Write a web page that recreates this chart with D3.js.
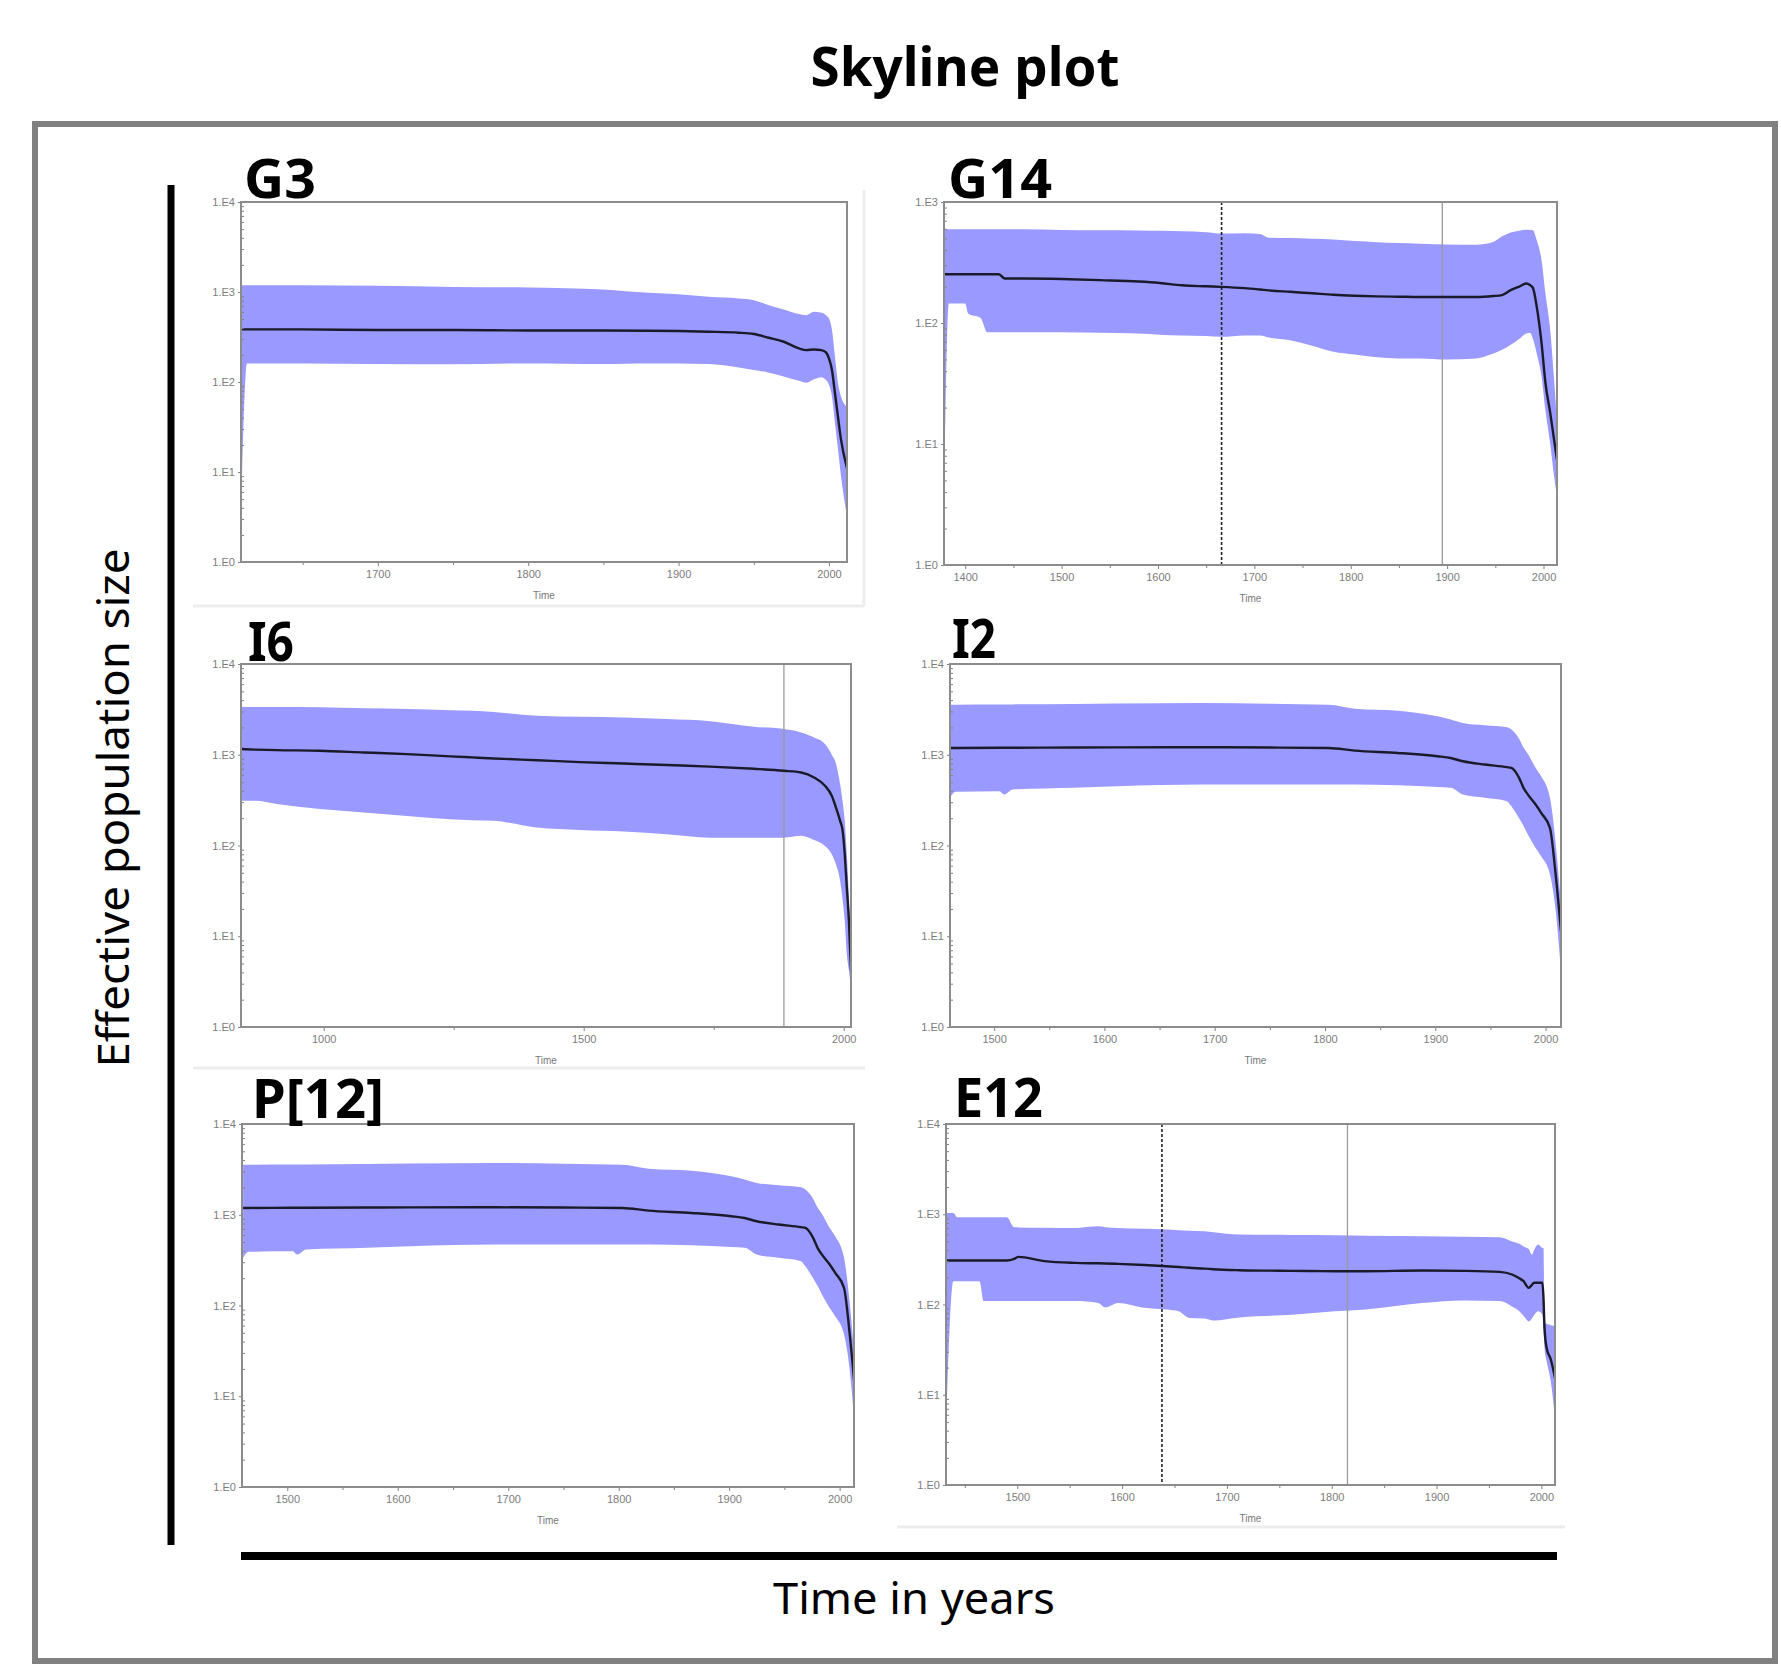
<!DOCTYPE html>
<html>
<head>
<meta charset="utf-8">
<script src="https://cdn.jsdelivr.net/npm/d3@7"></script>
<style>
    body { margin: 0; background: #fff; }
    svg { display: block; }
    .tick text { font-family: 'Liberation Sans', Arial, sans-serif; font-size: 11px; fill: #7c7c7c; }
    .tick line { stroke: #808080; }
</style>
</head>
<body>
<div id="chart"></div>
<script>
// G3
const g3Years  = [1609, 1613, 1650, 1700, 1750, 1800, 1850, 1880, 1900, 1920, 1940, 1950, 1960, 1970, 1980, 1985, 1990, 1995, 1998, 2000, 2002, 2004, 2006, 2008, 2012];
const g3Median = [384, 384, 384, 378, 378, 374, 374, 371, 368, 362, 353, 341, 310, 280, 236, 226, 230, 226, 213, 183, 136, 75, 41, 23, 11];
const g3Lower  = [3, 161, 161, 158, 157, 161, 158, 161, 161, 158, 145, 136, 127, 115, 103, 98, 107, 113, 105, 93, 69, 35, 18, 9, 3.2];
const g3Upper  = [1190, 1190, 1190, 1170, 1138, 1122, 1067, 980, 946, 883, 847, 811, 714, 640, 568, 553, 603, 587, 553, 508, 378, 191, 97, 69, 53];

// G14
const g14Years  = [1378, 1383, 1400, 1403, 1416, 1423, 1435, 1441, 1460, 1500, 1540, 1580, 1602, 1625, 1650, 1665, 1690, 1706, 1715, 1737, 1760, 1782, 1804, 1827, 1849, 1872, 1899, 1930, 1948, 1957, 1966, 1975, 1982, 1986, 1989, 1993, 1998, 2002, 2007, 2011, 2014];
const g14Median = [253, 253, 253, 253, 253, 253, 253, 233, 233, 231, 226, 220, 214, 205, 201, 199, 194, 189, 186, 181, 176, 171, 168, 166, 165, 164, 164, 164, 167, 170, 187, 200, 212, 206, 195, 136, 68, 32, 18, 10.8, 7.4];
const g14Lower  = [3, 145, 145, 120, 110, 84, 84, 84, 84, 84, 83, 82, 80, 79, 78, 77, 79, 79, 76, 72, 65, 58, 55, 52, 51, 51, 50, 51, 56, 60, 66, 74, 82, 83, 74, 56, 36, 19, 10, 5.4, 3.7];
const g14Upper  = [594, 594, 594, 594, 594, 594, 594, 594, 594, 588, 584, 582, 578, 572, 562, 548, 552, 545, 507, 503, 498, 490, 476, 466, 458, 452, 446, 444, 468, 520, 560, 580, 590, 588, 584, 482, 330, 175, 87, 34, 14.8];

// I6
const i6Years  = [841, 868, 910, 993, 1077, 1160, 1243, 1285, 1327, 1410, 1493, 1577, 1660, 1743, 1827, 1885, 1918, 1943, 1964, 1977, 1985, 1993, 1998, 2002, 2006, 2010, 2014];
const i6Median = [1155, 1140, 1125, 1107, 1060, 1016, 960, 935, 910, 870, 830, 800, 770, 740, 700, 666, 638, 562, 455, 353, 262, 187, 145, 80, 34, 14.8, 4.2];
const i6Lower  = [311, 311, 286, 252, 231, 212, 195, 190, 187, 158, 148, 143, 133, 122, 122, 122, 128, 115, 99, 80, 62, 41, 25, 14.8, 6.3, 4.2, 2.7];
const i6Upper  = [3380, 3360, 3350, 3327, 3250, 3190, 3100, 3055, 2950, 2690, 2620, 2580, 2470, 2340, 2037, 1920, 1762, 1552, 1311, 1000, 800, 475, 300, 187, 80, 27, 7.5];

// I2 (P[12] reads the same off the picture)
const i2Years  = [1460, 1465, 1505, 1509, 1517, 1572, 1611, 1689, 1750, 1803, 1827, 1866, 1902, 1914, 1925, 1945, 1965, 1969, 1976, 1980, 1984, 1991, 1996, 2004, 2009, 2014];
const i2Median = [1188, 1188, 1195, 1195, 1195, 1200, 1205, 1209, 1200, 1188, 1111, 1047, 962, 920, 848, 780, 730, 717, 556, 432, 364, 283, 229, 156, 50, 11.4];
const i2Lower  = [335, 390, 396, 364, 414, 432, 450, 470, 470, 470, 470, 460, 440, 432, 364, 335, 308, 270, 200, 165, 132, 94, 76, 48, 20, 4.1];
const i2Upper  = [3564, 3564, 3580, 3580, 3590, 3630, 3660, 3724, 3650, 3552, 3222, 3063, 2654, 2450, 2240, 2113, 2010, 1900, 1500, 1200, 1020, 716, 580, 335, 110, 22];

// E12
const e12Years  = [1432, 1439, 1443, 1464, 1468, 1490, 1497, 1501, 1526, 1555, 1577, 1584, 1596, 1621, 1642, 1654, 1664, 1679, 1687, 1712, 1762, 1803, 1832, 1886, 1927, 1960, 1972, 1979, 1983, 1988, 1991, 1993, 1997, 2001, 2002, 2003, 2005, 2009, 2013];
const e12Median = [307, 307, 307, 307, 307, 307, 320, 337, 302, 289, 286, 285, 282, 274, 265, 260, 255, 250, 246, 240, 236, 234, 234, 238, 236, 230, 215, 195, 181, 153, 165, 174, 174, 174, 119, 55, 33, 24.6, 15.4];
const e12Lower  = [4, 181, 181, 181, 109, 109, 109, 109, 109, 109, 104, 93, 104, 92, 88, 84, 71, 70, 66.5, 72, 77, 84, 88, 104, 111, 109, 95, 84, 75, 65, 70, 76, 84, 77, 55, 33, 23.6, 14, 5.6];
const e12Upper  = [1035, 1035, 927, 927, 927, 927, 718, 715, 710, 706, 736, 720, 706, 690, 676, 665, 655, 648, 630, 596, 590, 586, 578, 570, 562, 556, 500, 470, 440, 410, 357, 400, 461, 424, 424, 65, 61, 59, 57.5];

// axes
const decadeLabels = ['1.E0', '1.E1', '1.E2', '1.E3', '1.E4'];
const g3Ticks  = [1700, 1800, 1900, 2000];
const g14Ticks = [1400, 1500, 1600, 1700, 1800, 1900, 2000];
const i6Ticks  = [1000, 1500, 2000];
const i2Ticks  = [1500, 1600, 1700, 1800, 1900, 2000];
const e12Ticks = [1500, 1600, 1700, 1800, 1900, 2000];

// vertical marker lines (dashed, solid)
const g14Marks = [1666, 1895];
const i6Marks  = [null, 1885];
const e12Marks = [1638, 1815];

const WIDTH = 1781;
const HEIGHT = 1664;
const BAND_COLOR = '#9999ff';

const panels = [
    { name: 'G3', years: g3Years, median: g3Median, lower: g3Lower, upper: g3Upper,
      domain: [1609, 2012], topExp: 4, ticks: g3Ticks, minorStep: 50, marks: [],
      box: [241, 202, 847, 562], label: [244, 198, 72] },
    { name: 'G14', years: g14Years, median: g14Median, lower: g14Lower, upper: g14Upper,
      domain: [1378, 2014], topExp: 3, ticks: g14Ticks, minorStep: 50, marks: g14Marks,
      box: [944, 202, 1557, 565], label: [948, 198, 104] },
    { name: 'I6', years: i6Years, median: i6Median, lower: i6Lower, upper: i6Upper,
      domain: [841, 2014], topExp: 4, ticks: i6Ticks, minorStep: 250, marks: i6Marks,
      box: [241, 664, 851, 1027], label: [248, 661, 46] },
    { name: 'I2', years: i2Years, median: i2Median, lower: i2Lower, upper: i2Upper,
      domain: [1460, 2014], topExp: 4, ticks: i2Ticks, minorStep: 50, marks: [],
      box: [950, 664, 1561, 1027], label: [952, 658, 44] },
    { name: 'P[12]', years: i2Years, median: i2Median, lower: i2Lower, upper: i2Upper,
      domain: [1459, 2013], topExp: 4, ticks: i2Ticks, minorStep: 50, marks: [],
      box: [242, 1124, 854, 1487], label: [252, 1118, 132] },
    { name: 'E12', years: e12Years, median: e12Median, lower: e12Lower, upper: e12Upper,
      domain: [1432, 2013], topExp: 4, ticks: e12Ticks, minorStep: 50, marks: e12Marks,
      box: [946, 1124, 1555, 1485], label: [954, 1117, 89] },
];

const svg = d3.select('#chart')
    .append('svg')
    .attr('width', WIDTH)
    .attr('height', HEIGHT)
    .style('background', '#fff');

// faint edges of the pasted screenshots
const frameEdges = [
    [193, 606, 864, 606], [864, 190, 864, 606],
    [193, 1068, 865, 1068],
    [897, 1527, 1565, 1527],
];
svg.append('g')
    .selectAll('line')
    .data(frameEdges)
    .enter()
    .append('line')
    .attr('x1', d => d[0]).attr('y1', d => d[1])
    .attr('x2', d => d[2]).attr('y2', d => d[3])
    .attr('stroke', '#ededed')
    .attr('stroke-width', 3);

function drawPanel(p, idx) {
    const [x0, y0, x1, y1] = p.box;
    const x = d3.scaleLinear().domain(p.domain).range([x0, x1]);
    const y = d3.scaleLog().domain([1, 10 ** p.topExp]).range([y1, y0]);
    const rows = p.years.map((yr, i) => ({
        year: yr, median: p.median[i], lower: p.lower[i], upper: p.upper[i],
    }));

    const g = svg.append('g').attr('class', 'panel');
    const clipId = `clip-${idx}`;
    g.append('clipPath').attr('id', clipId)
        .append('rect')
        .attr('x', x0).attr('y', y0)
        .attr('width', x1 - x0).attr('height', y1 - y0);

    const plot = g.append('g').attr('clip-path', `url(#${clipId})`);

    plot.append('path')
        .datum(rows)
        .attr('fill', BAND_COLOR)
        .attr('d', d3.area()
            .x(d => x(d.year))
            .y0(d => y(d.lower))
            .y1(d => y(d.upper))
            .curve(d3.curveMonotoneX));

    p.marks.forEach((m, i) => {
        if (m == null) return;
        plot.append('line')
            .attr('x1', x(m)).attr('x2', x(m))
            .attr('y1', y0).attr('y2', y1)
            .attr('stroke', i === 0 ? '#222' : '#9a9a9a')
            .attr('stroke-width', i === 0 ? 1.6 : 1.3)
            .attr('stroke-dasharray', i === 0 ? '3,2' : null);
    });

    plot.append('path')
        .datum(rows)
        .attr('fill', 'none')
        .attr('stroke', '#1a1a2a')
        .attr('stroke-width', 2.4)
        .attr('d', d3.line()
            .x(d => x(d.year))
            .y(d => y(d.median))
            .curve(d3.curveMonotoneX));

    // x axis
    const minor = d3.range(Math.ceil(p.domain[0] / p.minorStep) * p.minorStep, p.domain[1], p.minorStep)
        .filter(v => !p.ticks.includes(v));
    g.append('g')
        .attr('transform', `translate(0,${y1})`)
        .call(d3.axisBottom(x).tickValues(minor).tickSize(3).tickFormat(''))
        .call(a => a.select('.domain').remove());
    g.append('g')
        .attr('transform', `translate(0,${y1})`)
        .call(d3.axisBottom(x).tickValues(p.ticks).tickSize(4).tickPadding(4).tickFormat(d3.format('d')))
        .call(a => a.select('.domain').remove());

    // y axis
    const decades = d3.range(0, p.topExp + 1).map(e => 10 ** e);
    const minorY = d3.range(0, p.topExp).flatMap(e => d3.range(2, 10).map(m => m * 10 ** e));
    g.append('g')
        .attr('transform', `translate(${x0},0)`)
        .call(d3.axisLeft(y).tickValues(decades).tickSize(3).tickPadding(3)
            .tickFormat(v => decadeLabels[Math.round(Math.log10(v))]))
        .call(a => a.select('.domain').remove());
    g.append('g')
        .attr('transform', `translate(${x0},0)`)
        .call(d3.axisRight(y).tickValues(minorY).tickSize(3).tickFormat(''))
        .call(a => a.select('.domain').remove());

    g.append('rect')
        .attr('x', x0).attr('y', y0)
        .attr('width', x1 - x0).attr('height', y1 - y0)
        .attr('fill', 'none')
        .attr('stroke', '#8c8c8c')
        .attr('stroke-width', 2);

    g.append('text')
        .attr('x', (x0 + x1) / 2)
        .attr('y', y1 + 37)
        .attr('text-anchor', 'middle')
        .style('font-family', "'Liberation Sans', Arial, sans-serif")
        .style('font-size', '10px')
        .style('fill', '#777')
        .text('Time');

    const [lx, ly, lw] = p.label;
    g.append('text')
        .attr('x', lx)
        .attr('y', ly)
        .attr('textLength', lw)
        .attr('lengthAdjust', 'spacingAndGlyphs')
        .style('font-family', "'Noto Sans', 'Open Sans', sans-serif")
        .style('font-weight', 700)
        .style('font-size', '53px')
        .style('fill', '#000')
        .text(p.name);
}

panels.forEach(drawPanel);

// frame, bars and titles
svg.append('rect')
    .attr('x', 35).attr('y', 124)
    .attr('width', 1740).attr('height', 1537)
    .attr('fill', 'none')
    .attr('stroke', '#808080')
    .attr('stroke-width', 6);

svg.append('line')
    .attr('x1', 171).attr('x2', 171)
    .attr('y1', 185).attr('y2', 1545)
    .attr('stroke', '#000')
    .attr('stroke-width', 7);

svg.append('line')
    .attr('x1', 241).attr('x2', 1557)
    .attr('y1', 1556).attr('y2', 1556)
    .attr('stroke', '#000')
    .attr('stroke-width', 8);

svg.append('text')
    .attr('x', 965)
    .attr('y', 86)
    .attr('text-anchor', 'middle')
    .attr('textLength', 309)
    .attr('lengthAdjust', 'spacingAndGlyphs')
    .style('font-family', "'Noto Sans', 'Open Sans', sans-serif")
    .style('font-weight', 700)
    .style('font-size', '53px')
    .text('Skyline plot');

svg.append('text')
    .attr('x', 914)
    .attr('y', 1614)
    .attr('text-anchor', 'middle')
    .attr('textLength', 282)
    .attr('lengthAdjust', 'spacingAndGlyphs')
    .style('font-family', "'Noto Sans', 'Open Sans', sans-serif")
    .style('font-size', '43px')
    .text('Time in years');

svg.append('text')
    .attr('transform', 'translate(129,808) rotate(-90)')
    .attr('text-anchor', 'middle')
    .attr('textLength', 519)
    .attr('lengthAdjust', 'spacingAndGlyphs')
    .style('font-family', "'Noto Sans', 'Open Sans', sans-serif")
    .style('font-size', '43px')
    .text('Effective population size');
</script>
</body>
</html>
